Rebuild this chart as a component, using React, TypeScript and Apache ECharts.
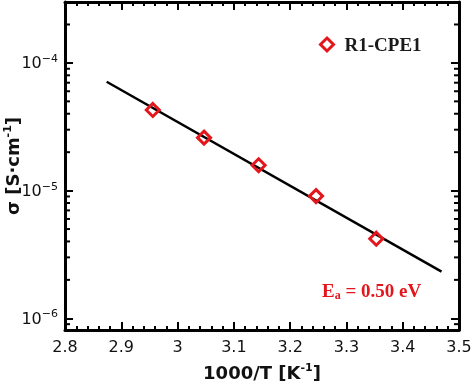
import React, { useEffect, useRef } from "react";
import * as echarts from "echarts";

const invT = [2.956, 3.047, 3.144, 3.246, 3.353];
const sigma = [4.28e-5, 2.6e-5, 1.58e-5, 9.06e-6, 4.2e-6];
const fitInvT = [2.874, 3.469];
const fitSigma = [7.12e-5, 2.32e-6];
const minorSigmaTicks = [
  9e-7,
  2e-6, 3e-6, 4e-6, 5e-6, 6e-6, 7e-6, 8e-6, 9e-6,
  2e-5, 3e-5, 4e-5, 5e-5, 6e-5, 7e-5, 8e-5, 9e-5,
  2e-4,
];
const xRange = [2.8, 3.5];
const yRange = [8.1e-7, 3e-4];
const seriesName = "R1-CPE1";
const eaText = "0.50 eV";

const RED = "#e3161b";

function yLabel(v: number): string {
  const e = Math.log10(v);
  const r = Math.round(e);
  if (Math.abs(e - r) > 1e-6) return "";
  return `{b|10}{s|${r < 0 ? "\u2212" + -r : r}}`;
}

export default function App() {
  const ref = useRef<HTMLDivElement>(null);
  useEffect(() => {
    if (!ref.current) return;
    const chart = echarts.init(ref.current, null, { renderer: "svg" });
    const axisLine = { show: true, lineStyle: { color: "#000", width: 3 } };
    const tickStyle = { color: "#000", width: 2 };
    const titleRich = {
      t: { fontFamily: "DejaVu Sans", fontWeight: "bold", fontSize: 18, color: "#111" },
      s: {
        fontFamily: "DejaVu Sans",
        fontWeight: "bold",
        fontSize: 11,
        color: "#111",
        padding: [0, 0, 9, 0],
      },
    };
    const xBase = {
      type: "value",
      min: xRange[0],
      max: xRange[1],
      interval: 0.1,
      axisLine,
      splitLine: { show: false },
      axisTick: { show: true, inside: true, length: 8, lineStyle: tickStyle },
      minorTick: { show: true, splitNumber: 5, length: 4, lineStyle: tickStyle },
    };
    const yBase = {
      type: "log",
      logBase: 10,
      min: yRange[0],
      max: yRange[1],
      axisLine,
      splitLine: { show: false },
      axisTick: { show: true, inside: true, length: 8, lineStyle: tickStyle },
    };
    chart.setOption({
      animation: false,
      grid: {
        left: 65,
        right: 15,
        top: 2,
        bottom: 55,
        containLabel: false,
        outerBoundsMode: "none",
      },
      legend: {
        data: [seriesName],
        left: 314,
        top: 30,
        icon: "diamond",
        itemWidth: 13,
        itemHeight: 13,
        itemStyle: { color: "#fff", borderColor: RED, borderWidth: 3, opacity: 1 },
        textStyle: {
          fontFamily: "Liberation Serif",
          fontWeight: "bold",
          fontSize: 19,
          color: "#1a1a1a",
          padding: [0, 0, 0, 6],
        },
      },
      xAxis: [
        {
          ...xBase,
          position: "bottom",
          axisLabel: {
            show: true,
            margin: 8,
            fontFamily: "DejaVu Sans",
            fontSize: 16,
            color: "#111",
          },
          name: "{t|1000/T [K}{s|-1}{t|]}",
          nameLocation: "middle",
          nameGap: 32,
          nameMoveOverlap: false,
          nameTextStyle: { rich: titleRich },
        },
        { ...xBase, position: "top", axisLabel: { show: false } },
      ],
      yAxis: [
        {
          ...yBase,
          position: "left",
          axisLabel: {
            show: true,
            margin: 7,
            formatter: yLabel,
            rich: {
              b: { fontFamily: "DejaVu Sans", fontSize: 16, color: "#111" },
              s: { fontFamily: "DejaVu Sans", fontSize: 11, color: "#111", padding: [0, 0, 9, 0] },
            },
          },
          name: "{t|\u03c3 [S\u00b7cm}{s|-1}{t|]}",
          nameLocation: "middle",
          nameGap: 43,
          nameMoveOverlap: false,
          nameTextStyle: { rich: titleRich },
        },
        { ...yBase, position: "right", axisLabel: { show: false } },
      ],
      graphic: [
        {
          type: "text",
          left: 322,
          top: 281,
          style: {
            text: `{e|E}{a|a}{e| = ${eaText}}`,
            rich: {
              e: { fontFamily: "Liberation Serif", fontWeight: "bold", fontSize: 19, fill: RED },
              a: {
                fontFamily: "Liberation Serif",
                fontWeight: "bold",
                fontSize: 12,
                fill: RED,
                padding: [8, 0, 0, 0],
              },
            },
          },
        },
      ],
      series: [
        {
          type: "custom",
          silent: true,
          xAxisIndex: 0,
          yAxisIndex: 0,
          clip: false,
          data: minorSigmaTicks.map((v) => [xRange[0], v]),
          renderItem: (params: any, api: any) => {
            const cs = params.coordSys;
            const y = api.coord([api.value(0), api.value(1)])[1];
            const st = { stroke: "#000", lineWidth: 2 };
            return {
              type: "group",
              children: [
                { type: "line", shape: { x1: cs.x, y1: y, x2: cs.x + 5, y2: y }, style: st },
                {
                  type: "line",
                  shape: { x1: cs.x + cs.width, y1: y, x2: cs.x + cs.width - 5, y2: y },
                  style: st,
                },
              ],
            };
          },
        },
        {
          type: "line",
          silent: true,
          data: fitInvT.map((x, i) => [x, fitSigma[i]]),
          showSymbol: false,
          symbol: "none",
          lineStyle: { color: "#000", width: 2.5 },
          z: 2,
        },
        {
          name: seriesName,
          type: "scatter",
          data: invT.map((x, i) => [x, sigma[i]]),
          symbol: "diamond",
          symbolSize: 13,
          itemStyle: {
            color: "rgba(255,255,255,0)",
            borderColor: RED,
            borderWidth: 3,
            opacity: 1,
          },
          z: 3,
        },
      ],
    });
    return () => chart.dispose();
  }, []);
  return (
    <div
      ref={ref}
      style={{ position: "fixed", left: 0, top: 0, width: 474, height: 385 }}
    />
  );
}
